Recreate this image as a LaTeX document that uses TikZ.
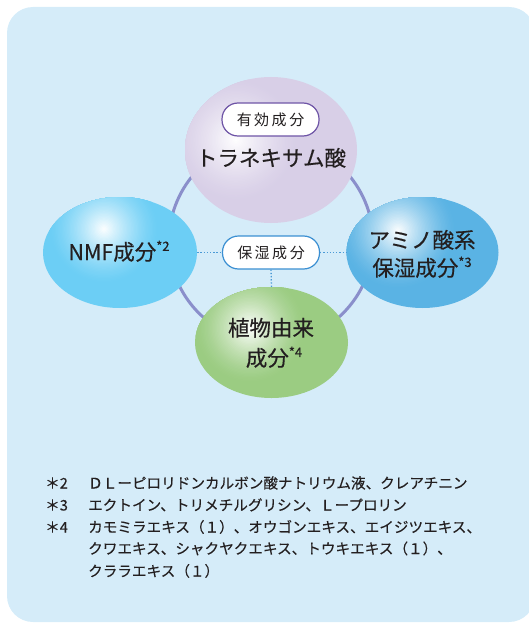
\documentclass[tikz,border=0pt]{standalone}
\usepackage{fontspec}
\setmainfont{Noto Sans CJK JP}
\usetikzlibrary{shapes.geometric}
\definecolor{bgblue}{HTML}{D5ECF9}
\definecolor{ringc}{HTML}{8A8FCB}
\definecolor{purp}{HTML}{D8CFE7}
\definecolor{nmfc}{HTML}{6CCEF5}
\definecolor{aminoc}{HTML}{5AB3E4}
\definecolor{greenc}{HTML}{9BCC82}
\definecolor{txt}{HTML}{231F20}
\definecolor{pillpurple}{HTML}{6E54A6}
\definecolor{pillblue}{HTML}{3B8FD2}
\definecolor{dotblue}{HTML}{4A9AD6}
\newcommand\supmark[1]{\raisebox{0.42em}{\fontsize{13}{13}\selectfont *#1}}
% soft highlight drawn as many concentric discs
\newcommand\glowspot[4]{%
  \foreach \i in {0,...,39}{%
    \pgfmathsetmacro\rr{#3*(1-\i/40)}%
    \pgfmathsetmacro\pp{100*(\i/40)^1.4}%
    \fill[white!\pp!#4] (#1,#2) circle[radius=\rr];}}
\begin{document}
\begin{tikzpicture}[x=1pt,y=1pt,
  ball/.style={ellipse, inner sep=0pt},
  pill/.style={rectangle, rounded corners=16pt, fill=white, line width=1.2pt,
    minimum width=97pt, minimum height=33pt, inner sep=0pt, text=txt,
    font=\fontsize{15}{15}\selectfont},
  dotline/.style={dotblue, line width=1.3pt, dash pattern=on 1.3pt off 1.9pt},
  bigtext/.style={text=txt, inner sep=0pt, font=\fontsize{21.5}{21.5}\selectfont\addfontfeature{FakeBold=0.4}},
  fn/.style={text=txt, inner sep=0pt, font=\fontsize{14.6}{14.6}\selectfont\addfontfeature{FakeBold=0.2}}]
\useasboundingbox (0,0) rectangle (529,-623);
\fill[bgblue, rounded corners=26pt] (7,-7) rectangle (535,-622);
% ring
\node[draw=ringc, line width=3pt, circle, minimum size=204pt, inner sep=0pt] (ring) at (271,-241) {};
% balls
\node[ball, minimum width=172pt, minimum height=146pt, fill=purp] (tra) at (271,-150) {};
\begin{scope}
  \clip (271,-150) ellipse [x radius=86, y radius=73];
  \glowspot{236}{-140}{62}{purp}
\end{scope}
\node[ball, minimum width=154pt, minimum height=111pt, fill=nmfc] (nmf) at (120,-252.5) {};
\begin{scope}
  \clip (120,-252.5) ellipse [x radius=77, y radius=55.5];
  \glowspot{104}{-229}{55}{nmfc}
\end{scope}
\node[ball, minimum width=152pt, minimum height=111pt, fill=aminoc] (amino) at (422.5,-252.5) {};
\begin{scope}
  \clip (422.5,-252.5) ellipse [x radius=76, y radius=55.5];
  \glowspot{398}{-231}{58}{aminoc}
\end{scope}
\node[ball, minimum width=153pt, minimum height=111pt, fill=greenc] (plant) at (271.5,-342.5) {};
\begin{scope}
  \clip (271.5,-342.5) ellipse [x radius=76.5, y radius=55.5];
  \glowspot{250}{-328}{55}{greenc}
\end{scope}
% pills
\node[pill, draw=pillpurple] (eff) at (270.5,-119.5) {有\hspace{2.5pt}効\hspace{2.5pt}成\hspace{2.5pt}分};
\node[pill, draw=pillblue] (moist) at (271,-252.5) {保\hspace{2.5pt}湿\hspace{2.5pt}成\hspace{2.5pt}分};
% dotted connectors
\draw[dotline] (nmf.east) -- (moist.west);
\draw[dotline] (moist.east) -- (amino.west);
\draw[dotline] (moist.south) -- (plant.north);
% ball texts
\node[bigtext, anchor=base] (tratext) at (271,-166) {トラネキサム酸};
\node[bigtext, anchor=base] (nmftext) at (119,-260) {NMF成分\supmark{2}};
\node[bigtext, anchor=base] (amino1) at (422,-248) {アミノ酸系};
\node[bigtext, anchor=base] (amino2) at (422,-276) {保湿成分\supmark{3}};
\node[bigtext, anchor=base] (plant1) at (271,-336) {植物由来};
\node[bigtext, anchor=base] (plant2) at (274,-366) {成分\supmark{4}};
% footnotes
\node[fn, anchor=base west] (m2) at (45,-488.5) {＊2};
\node[fn, anchor=base west] (f2) at (88,-488.5) {ＤＬーピロリドンカルボン酸ナトリウム液、クレアチニン};
\node[fn, anchor=base west] (m3) at (45,-510.5) {＊3};
\node[fn, anchor=base west] (f3) at (88,-510.5) {エクトイン、トリメチルグリシン、Ｌープロリン};
\node[fn, anchor=base west] (m4) at (45,-532.5) {＊4};
\node[fn, anchor=base west] (f4a) at (88,-532.5) {カモミラエキス（１）、オウゴンエキス、エイジツエキス、};
\node[fn, anchor=base west] (f4b) at (88,-554) {クワエキス、シャクヤクエキス、トウキエキス（１）、};
\node[fn, anchor=base west] (f4c) at (88,-576.5) {クララエキス（１）};
\end{tikzpicture}
\end{document}
